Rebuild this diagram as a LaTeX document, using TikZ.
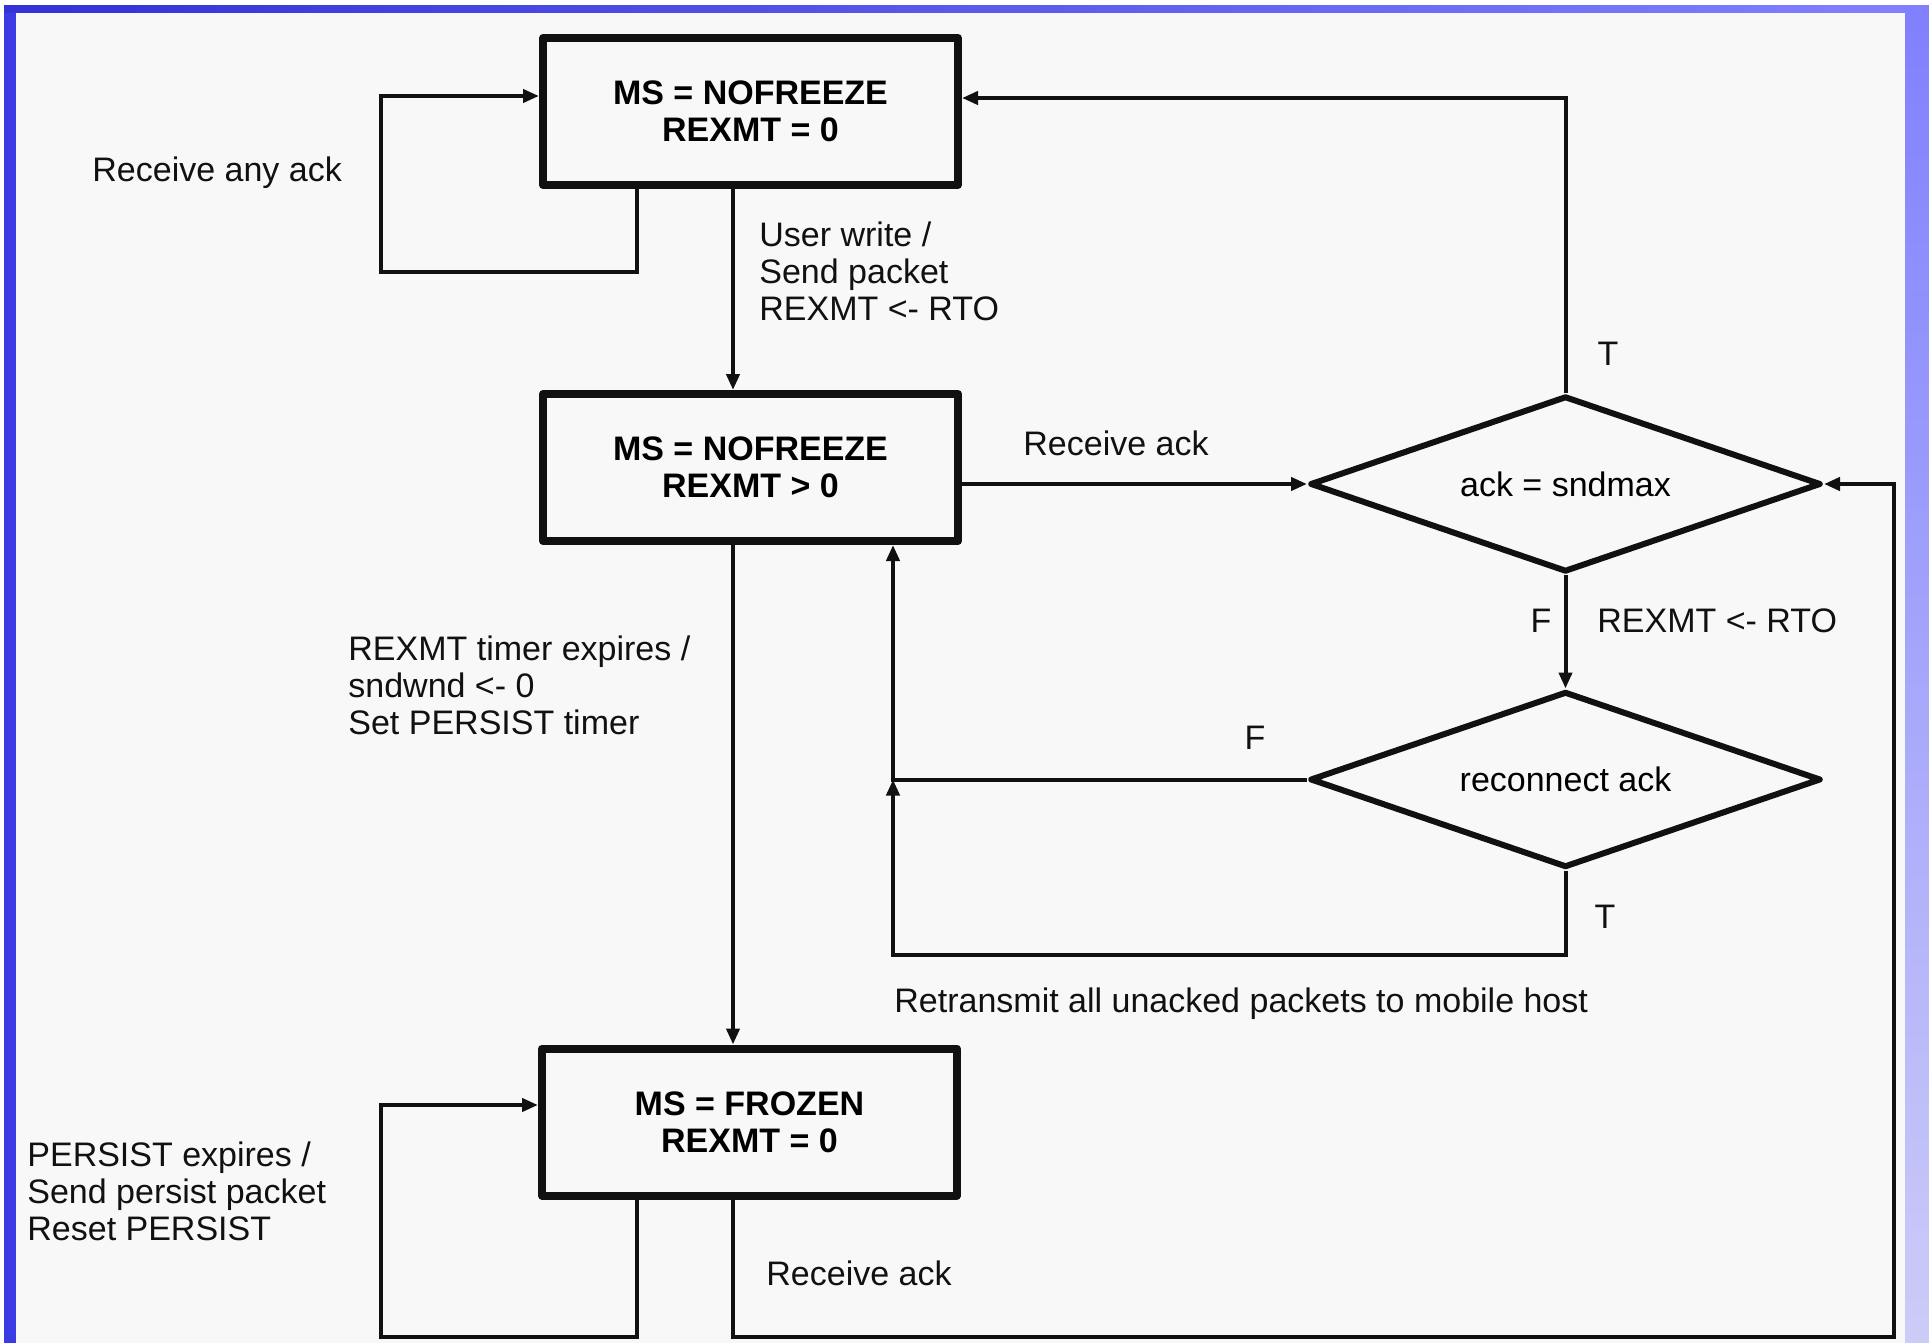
\documentclass[tikz,border=0pt]{standalone}
\usepackage{fontspec}
\setmainfont{Liberation Sans}
\usetikzlibrary{shapes.geometric,arrows.meta}

\definecolor{paper}{HTML}{F8F8F8}
\definecolor{frameleft}{HTML}{3B3BE3}
\definecolor{frametopl}{HTML}{3232D6}
\definecolor{framecorner}{HTML}{8080FF}
\definecolor{framelow}{HTML}{CCCCF8}
\definecolor{ink}{HTML}{111111}

\tikzset{
  state/.style={draw=ink, line width=4pt, line join=round, inner sep=0pt,
    minimum width=207.5pt, minimum height=73.5pt, align=center,
    font=\bfseries\fontsize{17pt}{18.5pt}\selectfont},
  test/.style={draw=ink, shape=diamond, aspect=3, line width=3pt, line join=round,
    inner sep=0pt, minimum width=255.5pt, minimum height=88pt,
    font=\fontsize{17pt}{18.5pt}\selectfont},
  lbl/.style={inner sep=0pt, align=left, text=ink,
    font=\fontsize{17pt}{18.5pt}\selectfont},
  conn/.style={draw=ink, line width=2pt},
  arr/.style={conn, -{Triangle[length=8pt,width=6.5pt]}},
}

\begin{document}
\begin{tikzpicture}[x=0.5pt, y=-0.5pt]
\useasboundingbox (0,0) rectangle (1929,1343);

% page and coloured frame
\fill[white] (0,0) rectangle (1929,1343);
\fill[paper] (16,13) rectangle (1905,1343);
\fill[frameleft] (4,6) rectangle (16,1343);
\shade[left color=frametopl, right color=framecorner] (4,6) rectangle (1905,13);
\shade[top color=framecorner, bottom color=framelow] (1905,6) rectangle (1929,1343);

% states
\node[state] (box1) at (750.5,111.5) {MS = NOFREEZE\\REXMT = 0};
\node[state] (box2) at (750.5,467.5) {MS = NOFREEZE\\REXMT > 0};
\node[state] (box3) at (749.5,1122)  {MS = FROZEN\\REXMT = 0};

% tests
\node[test] (d1) at (1565.5,484)   {ack = sndmax};
\node[test] (d2) at (1565.5,779.5) {reconnect ack};

% routing points
\coordinate (spine) at (733,0);
\coordinate (l1a) at (637,272);
\coordinate (l1b) at (381,96);
\coordinate (ttop) at (1566,98);
\coordinate (rx) at (893,779.5);
\coordinate (tbot) at (0,955);
\coordinate (l3a) at (637,1337);
\coordinate (l3b) at (381,1105);
\coordinate (rb) at (1894,1337);

% transitions
\draw[arr] (box1.south -| l1a) -- (l1a) -| (l1b) -- (box1.west |- l1b);
\draw[arr] (box1.south -| spine) -- (box2.north -| spine);
\draw[arr] (box2.east |- d1.west) -- (d1.west);
\draw[arr] (d1.north) |- (box1.east |- ttop);
\draw[arr] (d1.south) -- (d2.north);
\draw[arr] (d2.west) -- (d2.west -| rx) -- (box2.south -| rx);
\draw[arr] (d2.south) |- (rx |- tbot) -- (d2.west -| rx);
\draw[arr] (box2.south -| spine) -- (box3.north -| spine);
\draw[arr] (box3.south -| l3a) -- (l3a) -| (l3b) -- (box3.west |- l3b);
\draw[arr] (box3.south -| spine) |- (rb) |- (d1.east);

% labels
\node[lbl, anchor=west] (tAny) at (92,173) {Receive any ack};
\node[lbl, anchor=west] (tWrite) at (759,271) {User write /\\Send packet\\REXMT <- RTO};
\node[lbl, anchor=west] (tAck1) at (1023,443) {Receive ack};
\node[lbl] (tT1) at (1608,354) {T};
\node[lbl] (tF1) at (1541,621) {F};
\node[lbl, anchor=west] (tRto) at (1597,621) {REXMT <- RTO};
\node[lbl] (tF2) at (1255,738) {F};
\node[lbl] (tT2) at (1605,917) {T};
\node[lbl, anchor=west] (tRetx) at (894,1004) {Retransmit all unacked packets to mobile host};
\node[lbl, anchor=west] (tTimer) at (348,685) {REXMT timer expires /\\sndwnd <- 0\\Set PERSIST timer};
\node[lbl, anchor=west] (tPersist) at (27,1191) {PERSIST expires /\\Send persist packet\\Reset PERSIST};
\node[lbl, anchor=west] (tAck2) at (766,1273) {Receive ack};
\end{tikzpicture}
\end{document}
